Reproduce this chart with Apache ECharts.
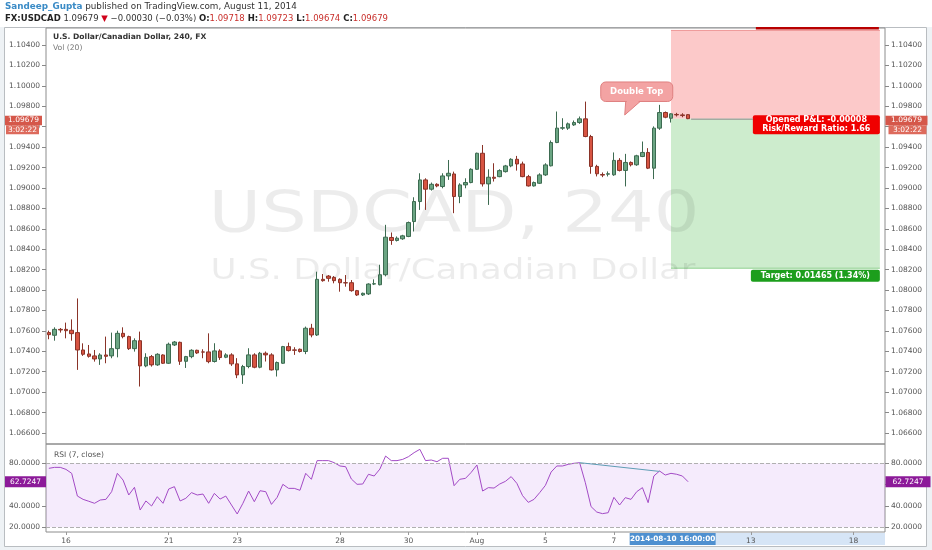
<!DOCTYPE html>
<html><head><meta charset="utf-8">
<script src="https://cdn.jsdelivr.net/npm/echarts@6/dist/echarts.min.js"></script>
<style>html,body{margin:0;padding:0;background:#eef2f5;}#c{width:932px;height:550px;}</style>
</head><body><div id="c"></div>
<script>
// ---------- data ----------
const tradingDays = ['2014-07-15','2014-07-16','2014-07-17','2014-07-18','2014-07-21','2014-07-22','2014-07-23','2014-07-24','2014-07-25',
  '2014-07-28','2014-07-29','2014-07-30','2014-07-31','2014-08-01','2014-08-04','2014-08-05','2014-08-06','2014-08-07','2014-08-08',
  '2014-08-11','2014-08-12','2014-08-13','2014-08-14','2014-08-15','2014-08-18'];
const barHours = ['00:00','04:00','08:00','12:00','16:00','20:00'];
const firstBar = '2014-07-15 12:00';
const tickDates = ['2014-07-16','2014-07-21','2014-07-23','2014-07-28','2014-07-30','2014-08-01','2014-08-05','2014-08-07','2014-08-13','2014-08-18'];
const tickTexts = ['16','21','23','28','30','Aug','5','7','13','18'];

const opens = [1.07583,1.07557,1.07615,1.07615,1.07606,1.07583,1.07413,1.07374,1.07355,1.07325,
1.07364,1.07355,1.07426,1.07576,1.07544,1.07426,1.07504,1.07257,1.07348,1.07267,
1.07364,1.07283,1.07462,1.07488,1.07302,1.07348,1.07410,1.07394,1.07394,1.07300,
1.07404,1.07342,1.07365,1.07277,1.07169,1.07251,1.07365,1.07244,1.07381,1.07365,
1.07218,1.07283,1.07446,1.07414,1.07420,1.07398,1.07626,1.07560,1.08105,1.08137,
1.08124,1.08105,1.08072,1.08072,1.07994,1.07952,1.07962,1.08059,1.08052,1.08150,
1.08515,1.08486,1.08502,1.08525,1.08671,1.08867,1.09079,1.08988,1.09036,1.09014,
1.09118,1.09137,1.08916,1.09030,1.09053,1.09183,1.09340,1.09040,1.09105,1.09111,
1.09160,1.09216,1.09281,1.09235,1.09111,1.09020,1.09046,1.09128,1.09217,1.09445,
1.09586,1.09586,1.09618,1.09641,1.09677,1.09504,1.09211,1.09132,1.09135,1.09129,
1.09270,1.09172,1.09250,1.09227,1.09308,1.09348,1.09194,1.09586,1.09739,1.09683,
1.09720,1.09716,1.09718];
const closes = [1.07563,1.07615,1.07609,1.07602,1.07573,1.07413,1.07371,1.07351,1.07325,1.07364,
1.07351,1.07426,1.07576,1.07544,1.07426,1.07504,1.07257,1.07341,1.07267,1.07371,
1.07283,1.07469,1.07491,1.07302,1.07348,1.07410,1.07384,1.07392,1.07299,1.07404,
1.07339,1.07365,1.07277,1.07169,1.07251,1.07365,1.07244,1.07381,1.07365,1.07218,
1.07290,1.07446,1.07407,1.07410,1.07398,1.07626,1.07560,1.08105,1.08092,1.08115,
1.08092,1.08072,1.08070,1.07994,1.07952,1.07968,1.08059,1.08062,1.08150,1.08518,
1.08486,1.08508,1.08531,1.08661,1.08867,1.09079,1.08988,1.09036,1.09020,1.09118,
1.09144,1.08916,1.09030,1.09053,1.09183,1.09340,1.09040,1.09105,1.09095,1.09170,
1.09216,1.09281,1.09235,1.09111,1.09020,1.09053,1.09128,1.09226,1.09445,1.09586,
1.09590,1.09628,1.09641,1.09677,1.09504,1.09211,1.09139,1.09126,1.09139,1.09270,
1.09172,1.09250,1.09227,1.09315,1.09348,1.09194,1.09586,1.09739,1.09693,1.09726,
1.09716,1.09709,1.09679];
const lows = [1.07518,1.07504,1.07583,1.07527,1.07504,1.07218,1.07355,1.07338,1.07299,1.07267,
1.07283,1.07332,1.07341,1.07527,1.07413,1.07397,1.07055,1.07244,1.07250,1.07257,
1.07276,1.07276,1.07452,1.07267,1.07237,1.07332,1.07374,1.07332,1.07283,1.07290,
1.07316,1.07333,1.07257,1.07137,1.07081,1.07234,1.07234,1.07234,1.07300,1.07212,
1.07153,1.07277,1.07398,1.07365,1.07388,1.07372,1.07537,1.07550,1.08082,1.08082,
1.08066,1.07984,1.08033,1.07984,1.07942,1.07942,1.07952,1.08049,1.08046,1.08134,
1.08443,1.08476,1.08492,1.08518,1.08574,1.08785,1.08785,1.08974,1.09007,1.08997,
1.09079,1.08753,1.08851,1.08997,1.09046,1.09177,1.09014,1.08834,1.09063,1.09105,
1.09151,1.09203,1.09170,1.09105,1.09014,1.09014,1.09040,1.09118,1.09211,1.09439,
1.09569,1.09569,1.09608,1.09628,1.09497,1.09139,1.09113,1.09106,1.09113,1.09119,
1.09162,1.09015,1.09211,1.09217,1.09302,1.09185,1.09087,1.09569,1.09683,1.09641,
1.09700,1.09693,1.09674];
const highs = [1.07602,1.07635,1.07628,1.07681,1.07713,1.07918,1.07478,1.07462,1.07413,1.07381,
1.07544,1.07583,1.07602,1.07635,1.07553,1.07527,1.07593,1.07381,1.07364,1.07381,
1.07371,1.07485,1.07501,1.07495,1.07355,1.07420,1.07416,1.07420,1.07576,1.07479,
1.07420,1.07381,1.07381,1.07333,1.07267,1.07430,1.07381,1.07394,1.07398,1.07381,
1.07300,1.07453,1.07485,1.07440,1.07427,1.07642,1.07669,1.08180,1.08157,1.08147,
1.08137,1.08115,1.08147,1.08098,1.08001,1.07975,1.08066,1.08105,1.08248,1.08639,
1.08564,1.08525,1.08541,1.08671,1.08909,1.09144,1.09095,1.09053,1.09046,1.09144,
1.09274,1.09160,1.09046,1.09095,1.09193,1.09346,1.09421,1.09183,1.09242,1.09183,
1.09226,1.09291,1.09314,1.09258,1.09128,1.09063,1.09144,1.09242,1.09465,1.09749,
1.09683,1.09641,1.09661,1.09700,1.09846,1.09520,1.09227,1.09152,1.09162,1.09348,
1.09292,1.09334,1.09260,1.09325,1.09455,1.09390,1.09603,1.09814,1.09749,1.09732,
1.09736,1.09732,1.09723];
const rsi = [75.3,76.2,76.2,74.3,70.6,49.3,46.2,44.4,42.5,45.6,
46.2,53.4,70.6,64.3,50.3,57.5,36.2,44.7,40.0,48.7,
42.5,55.9,58.1,44.7,47.2,52.5,50.3,51.2,42.5,51.8,
46.5,49.3,40.9,32.5,42.5,54.0,44.0,54.3,53.4,41.5,
48.1,60.3,56.5,56.5,54.7,70.6,65.0,82.5,82.5,82.5,
80.6,77.5,76.8,65.3,60.3,60.6,69.7,68.1,74.6,86.8,
82.5,82.5,83.7,86.2,90.0,93.1,82.5,83.1,81.5,84.7,
84.7,59.0,65.0,65.9,71.5,78.4,54.0,57.2,56.8,60.6,
63.1,67.5,61.2,49.7,43.4,46.2,52.5,59.3,71.8,77.5,
77.5,79.0,80.0,80.6,61.8,39.4,34.3,32.8,33.7,48.1,
40.9,47.8,46.2,53.4,57.2,43.1,68.1,72.8,69.0,70.6,
69.7,68.1,62.7247];

const priceTicks = [1.066,1.068,1.070,1.072,1.074,1.076,1.078,1.080,1.082,1.084,1.086,1.088,1.090,1.092,1.094,1.096,1.098,1.100,1.102,1.104];
const priceRange = [1.06492, 1.10567];
const rsiTicks = [20,40,60,80];
const rsiRange = [15.6, 98.1];
const rsiBands = [20, 80];
const rsiTrendIdx = [93, 107];
const rsiTrendVal = [80.6, 72.4];

const posEntry = 1.09679, posStop = 1.10548, posTarget = 1.08214;
const posIdx = [109.0, 145.6];
const posTexts = ['Opened P&L: -0.00008', 'Risk/Reward Ratio: 1.66', 'Target: 0.01465 (1.34%)'];
const calloutText = 'Double Top', calloutIdx = 100.9, calloutPrice = 1.09715;
const crosshairText = '2014-08-10 16:00:00', crosshairIdx = 109.3;
const timerText = '3:02:22';
const symbolText = 'FX:USDCAD';
const titleText = 'U.S. Dollar/Canadian Dollar, 240, FX';
const volText = 'Vol (20)';
const rsiTitle = 'RSI (7, close)';
const author = 'Sandeep_Gupta', publishedText = ' published on TradingView.com, August 11, 2014';
const watermark1 = 'USDCAD, 240', watermark2 = 'U.S. Dollar/Canadian Dollar';

// ---------- build ----------
const allSlots = [];
tradingDays.forEach(d => barHours.forEach(h => allSlots.push(d + ' ' + h)));
const cats = allSlots.slice(allSlots.indexOf(firstBar));
const tickMap = {};
tickDates.forEach((d, i) => { tickMap[d + ' 00:00'] = tickTexts[i]; });
const showTick = (i, v) => tickMap[v] !== undefined;
const candles = opens.map((o, i) => [o, closes[i], lows[i], highs[i]]);
const FF = 'DejaVu Sans';
const axisFont = {fontSize: 7.5, color: '#555', fontFamily: FF};

const chart = echarts.init(document.getElementById('c'));
const priceAxis = pos => ({
  type: 'value', gridIndex: 0, position: pos, min: priceRange[0], max: priceRange[1],
  axisLine: {show: false}, splitLine: {show: false},
  axisTick: {show: true, customValues: priceTicks, length: 4, lineStyle: {color: '#888'}},
  axisLabel: Object.assign({customValues: priceTicks, formatter: v => v.toFixed(5), margin: 6}, axisFont)
});
const rsiAxis = pos => ({
  type: 'value', gridIndex: 1, position: pos, min: rsiRange[0], max: rsiRange[1],
  axisLine: {show: false}, splitLine: {show: false},
  axisTick: {show: true, customValues: rsiTicks, length: 4, lineStyle: {color: '#888'}},
  axisLabel: Object.assign({customValues: rsiTicks, formatter: v => v.toFixed(4), margin: 6}, axisFont)
});

chart.setOption({
  animation: false,
  backgroundColor: 'transparent',
  grid: [
    {left: 46, right: 47, top: 28, height: 416, show: true, borderColor: '#8c8c8c', borderWidth: 1},
    {left: 46, right: 47, top: 444, height: 88, show: true, borderColor: '#8c8c8c', borderWidth: 1}
  ],
  xAxis: [
    {type: 'category', gridIndex: 0, data: cats, boundaryGap: true, axisLine: {show: false}, axisTick: {show: false}, axisLabel: {show: false}},
    {type: 'category', gridIndex: 1, data: cats, boundaryGap: true, axisLine: {show: false},
     axisTick: {show: true, alignWithLabel: true, interval: showTick, length: 3, lineStyle: {color: '#999'}},
     axisLabel: Object.assign({interval: showTick, formatter: v => tickMap[v] || '', margin: 5}, axisFont)}
  ],
  yAxis: [priceAxis('left'), priceAxis('right'), rsiAxis('left'), rsiAxis('right')],
  series: [
    {type: 'candlestick', xAxisIndex: 0, yAxisIndex: 0, data: candles, barWidth: 4, z: 3,
     itemStyle: {color: '#6ba583', color0: '#d75442', borderColor: '#3d6b51', borderColor0: '#8a3328', borderWidth: 1}},
    {type: 'line', xAxisIndex: 1, yAxisIndex: 2, data: rsi, symbol: 'none', z: 3,
     lineStyle: {color: '#a34bc6', width: 1},
     markArea: {silent: true, itemStyle: {color: 'rgba(190,120,235,0.15)'}, data: [[{yAxis: rsiBands[0]}, {yAxis: rsiBands[1]}]]},
     markLine: {silent: true, symbol: ['none', 'none'], label: {show: false},
       lineStyle: {color: '#b0b0b0', type: 'dashed', width: 1},
       data: [{yAxis: rsiBands[1]}, {yAxis: rsiBands[0]},
         [{coord: [cats[rsiTrendIdx[0]], rsiTrendVal[0]], lineStyle: {type: 'solid', color: '#5e9db5', width: 1}},
          {coord: [cats[rsiTrendIdx[1]], rsiTrendVal[1]]}]]}}
  ]
});

// ---------- overlays positioned through the chart's own scales ----------
const x0 = chart.convertToPixel({xAxisIndex: 0}, 0), x100 = chart.convertToPixel({xAxisIndex: 0}, 100);
const gx = idx => x0 + (x100 - x0) * idx / 100;
const gy = p => chart.convertToPixel({yAxisIndex: 0}, p);
const ry = v => chart.convertToPixel({yAxisIndex: 2}, v);
const last = closes.length - 1;
const lastClose = closes[last], prevClose = closes[last - 1];
const chg = lastClose - prevClose;
const fmtSigned = v => (v < 0 ? '\u2212' : '+') + Math.abs(v).toFixed(5);
const pct = chg / prevClose * 100;

const G = [];
// page frame
G.push({type: 'rect', z: -5, silent: true, shape: {x: 0, y: 0, width: 932, height: 27}, style: {fill: '#fff'}});
G.push({type: 'rect', z: -5, silent: true, shape: {x: 4.5, y: 27.5, width: 922, height: 519}, style: {fill: '#fff', stroke: '#b9bdc1', lineWidth: 1}});

// position tool (under watermark and candles)
const pxL = gx(posIdx[0]), pxR = gx(posIdx[1]);
const yS = gy(posStop), yE = gy(posEntry), yT = gy(posTarget);
G.push({type: 'rect', z: 1, silent: true, shape: {x: pxL, y: yS, width: pxR - pxL, height: yE - yS}, style: {fill: '#fcc9c9'}});
G.push({type: 'rect', z: 1, silent: true, shape: {x: pxL, y: yE, width: pxR - pxL, height: yT - yE}, style: {fill: '#cdeccd'}});
G.push({type: 'line', z: 1, silent: true, shape: {x1: pxL, y1: yS + 0.5, x2: pxR, y2: yS + 0.5}, style: {stroke: '#ee9a9a', lineWidth: 1}});
G.push({type: 'line', z: 1, silent: true, shape: {x1: pxL, y1: yT, x2: pxR, y2: yT}, style: {stroke: '#8fd08f', lineWidth: 1}});

// watermark
G.push({type: 'text', z: 2, silent: true, x: 454, y: 217, scaleX: 1.26, style: {text: watermark1, fontSize: 57, fontFamily: FF, fill: 'rgba(0,0,0,0.075)', textAlign: 'center', textVerticalAlign: 'middle'}});
G.push({type: 'text', z: 2, silent: true, x: 453, y: 271.5, scaleX: 1.25, style: {text: watermark2, fontSize: 28.5, fontFamily: FF, fill: 'rgba(0,0,0,0.075)', textAlign: 'center', textVerticalAlign: 'middle'}});

G.push({type: 'rect', z: 5, silent: true, shape: {x: pxR - 124, y: yS - 3, width: 123, height: 2.5}, style: {fill: '#b80000'}});
G.push({type: 'line', z: 4, silent: true, shape: {x1: gx(last) + 3, y1: yE + 0.5, x2: pxR - 127, y2: yE + 0.5}, style: {stroke: '#8a8a8a', lineWidth: 1}});
G.push({type: 'rect', z: 10, shape: {x: pxR - 127, y: yE - 3.5, width: 127, height: 19, r: 2}, style: {fill: '#f00000'}});
G.push({type: 'text', z: 11, x: pxR - 63.5, y: yE + 1.5, style: {text: posTexts[0], fontSize: 8, fontWeight: 'bold', fontFamily: FF, fill: '#fff', textAlign: 'center', textVerticalAlign: 'middle'}});
G.push({type: 'text', z: 11, x: pxR - 63.5, y: yE + 10, style: {text: posTexts[1], fontSize: 8, fontWeight: 'bold', fontFamily: FF, fill: '#fff', textAlign: 'center', textVerticalAlign: 'middle'}});
G.push({type: 'rect', z: 10, shape: {x: pxR - 129, y: yT + 1.5, width: 129, height: 12, r: 2}, style: {fill: '#1c9e1c'}});
G.push({type: 'text', z: 11, x: pxR - 64.5, y: yT + 7.5, style: {text: posTexts[2], fontSize: 8, fontWeight: 'bold', fontFamily: FF, fill: '#fff', textAlign: 'center', textVerticalAlign: 'middle'}});

// header
G.push({type: 'text', z: 20, x: 5, y: 7, style: {text: '{u|' + author + '}{t|' + publishedText + '}', textVerticalAlign: 'middle',
  rich: {u: {fill: '#3a8bc6', fontSize: 8.8, fontWeight: 'bold', fontFamily: FF}, t: {fill: '#333', fontSize: 8.8, fontFamily: FF}}}});
G.push({type: 'text', z: 20, x: 5, y: 18.5, style: {
  text: '{b|' + symbolText + '}{t| ' + lastClose.toFixed(5) + ' }{r|\u25BC}{t| ' + fmtSigned(chg) + ' (' + (pct < 0 ? '\u2212' : '+') + Math.abs(pct).toFixed(2) + '%) }' +
        '{b|O:}{v|' + opens[last].toFixed(5) + '}{b| H:}{v|' + highs[last].toFixed(5) + '}{b| L:}{v|' + lows[last].toFixed(5) + '}{b| C:}{v|' + closes[last].toFixed(5) + '}',
  textVerticalAlign: 'middle',
  rich: {b: {fill: '#222', fontSize: 8.5, fontWeight: 'bold', fontFamily: FF}, t: {fill: '#333', fontSize: 8.5, fontFamily: FF},
         r: {fill: '#d0021b', fontSize: 8.5, fontFamily: FF}, v: {fill: '#c9302c', fontSize: 8.5, fontFamily: FF}}}});
// panel titles
G.push({type: 'text', z: 20, x: 53, y: 37.5, style: {text: titleText, fontSize: 7.6, fontWeight: 'bold', fontFamily: FF, fill: '#333', textVerticalAlign: 'middle'}});
G.push({type: 'text', z: 20, x: 53, y: 48.5, style: {text: volText, fontSize: 7.6, fontFamily: FF, fill: '#777', textVerticalAlign: 'middle'}});
G.push({type: 'text', z: 20, x: 54, y: 455, style: {text: rsiTitle, fontSize: 7.6, fontFamily: FF, fill: '#555', textVerticalAlign: 'middle'}});

// callout
const tx = gx(calloutIdx), ty = gy(calloutPrice);
G.push({type: 'polygon', z: 10, shape: {points: [[tx, ty], [tx + 1, ty - 14], [tx + 16, ty - 14]]}, style: {fill: '#f3a3a3', stroke: '#df7f7f', lineWidth: 1}});
G.push({type: 'rect', z: 10, shape: {x: tx - 24, y: ty - 33, width: 72, height: 19.5, r: 5}, style: {fill: '#f3a3a3', stroke: '#df7f7f', lineWidth: 1}});
G.push({type: 'polygon', z: 10, shape: {points: [[tx + 1.5, ty - 2], [tx + 2, ty - 14.5], [tx + 15, ty - 14.5]]}, style: {fill: '#f3a3a3'}});
G.push({type: 'text', z: 11, x: tx + 12, y: ty - 23, style: {text: calloutText, fontSize: 8.5, fontWeight: 'bold', fontFamily: FF, fill: '#fff', textAlign: 'center', textVerticalAlign: 'middle'}});

// axis value boxes
const yC = gy(lastClose);
[[885.5, 42], [5, 37]].forEach(([bx, bw], k) => {
  G.push({type: 'rect', z: 12, shape: {x: bx, y: yC - 3, width: bw, height: 9.5}, style: {fill: '#d5574a'}});
  G.push({type: 'text', z: 13, x: bx + bw / 2, y: yC + 1.8, style: {text: lastClose.toFixed(5), fontSize: 7.5, fontFamily: FF, fill: '#fff', textAlign: 'center', textVerticalAlign: 'middle'}});
  G.push({type: 'rect', z: 12, shape: {x: bx + (k ? 1 : 3), y: yC + 6.5, width: bw - 4, height: 9}, style: {fill: '#dd6a5c'}});
  G.push({type: 'text', z: 13, x: bx + (k ? 1 : 3) + (bw - 4) / 2, y: yC + 11, style: {text: timerText, fontSize: 7.5, fontFamily: FF, fill: '#fff', textAlign: 'center', textVerticalAlign: 'middle'}});
});
const yR = ry(rsi[last]);
[[885.5, 45], [5, 41]].forEach(([bx, bw]) => {
  G.push({type: 'rect', z: 12, shape: {x: bx, y: yR - 5.5, width: bw, height: 11}, style: {fill: '#8c1a99'}});
  G.push({type: 'text', z: 13, x: bx + bw / 2, y: yR, style: {text: rsi[last].toFixed(4), fontSize: 7.5, fontFamily: FF, fill: '#fff', textAlign: 'center', textVerticalAlign: 'middle'}});
});

// time axis highlight
const cx = gx(crosshairIdx);
const gridR = gx(cats.length - 0.5);
G.push({type: 'rect', z: -1, silent: true, shape: {x: cx + 43, y: 533, width: gridR - cx - 43, height: 12}, style: {fill: '#d6e5f6'}});
G.push({type: 'rect', z: 12, shape: {x: cx - 43, y: 533, width: 86, height: 12}, style: {fill: '#4f90d0'}});
G.push({type: 'text', z: 13, x: cx, y: 539, style: {text: crosshairText, fontSize: 7.3, fontWeight: 'bold', fontFamily: FF, fill: '#fff', textAlign: 'center', textVerticalAlign: 'middle'}});

chart.setOption({graphic: G});
</script>
</body></html>
